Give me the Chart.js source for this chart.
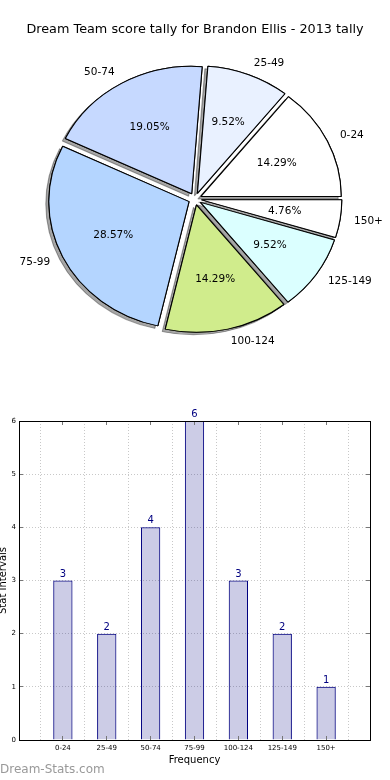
<!DOCTYPE html>
<html>
<head>
<meta charset="utf-8">
<script src="https://cdn.jsdelivr.net/npm/chart.js@4.4.0/dist/chart.umd.min.js"></script>
<style>
    html, body { margin: 0; padding: 0; background: #fff; overflow: hidden; }
    body { position: relative; width: 390px; height: 780px; }
    #pieChart { position: absolute; left: 0; top: 0; }
    #barChart { position: absolute; left: -6px; top: 380px; }
    #credit { position: absolute; left: 0; top: 762px; font: 12px 'DejaVu Sans'; line-height: 14px; color: #999; }
</style>
</head>
<body>
<canvas id="pieChart" width="390" height="380"></canvas>
<canvas id="barChart" width="396" height="400"></canvas>
<div id="credit">Dream-Stats.com</div>
<script>
const categories = ['0-24', '25-49', '50-74', '75-99', '100-124', '125-149', '150+'];
const counts = [3, 2, 4, 6, 3, 2, 1];
const sliceColors = ['#ffffff', '#e9f1ff', '#c6d9ff', '#b4d5ff', '#d0ec8c', '#dbffff', '#ffffff'];
const yTicks = [0, 1, 2, 3, 4, 5, 6];

const STRETCH = 1.1;   // pie is drawn as a slightly wide ellipse
const EXPLODE = 6;
const PIE_R = 127.5;

Chart.defaults.font.family = "'DejaVu Sans', sans-serif";
Chart.defaults.color = '#000';

const total = counts.reduce((a, b) => a + b, 0);

// matplotlib goes counter-clockwise from 3 o'clock, chart.js clockwise -> reverse
const pieLabels = categories.slice().reverse();
const pieValues = counts.slice().reverse();
const pieColors = sliceColors.slice().reverse();

const explodedPie = {
    id: 'explodedPie',
    beforeDatasetDraw(chart, args) {
        const ctx = chart.ctx;
        const arcs = args.meta.data;
        const cx = arcs[0].x;
        const paint = (withShadow) => {
            arcs.forEach(arc => {
                const mid = (arc.startAngle + arc.endAngle) / 2;
                ctx.save();
                ctx.translate(cx, 0);
                ctx.scale(STRETCH, 1);
                ctx.translate(-cx, 0);
                ctx.translate(Math.cos(mid) * EXPLODE, Math.sin(mid) * EXPLODE);
                if (withShadow) {
                    ctx.shadowColor = 'rgba(0,0,0,0.35)';
                    ctx.shadowOffsetX = -3;
                    ctx.shadowOffsetY = 2.5;
                }
                arc.draw(ctx);
                ctx.restore();
            });
        };
        paint(true);
        paint(false);
        return false;
    },
    afterDraw(chart) {
        const ctx = chart.ctx;
        const arcs = chart.getDatasetMeta(0).data;
        ctx.save();
        ctx.fillStyle = '#000';
        ctx.font = "10.5px 'DejaVu Sans'";
        ctx.textBaseline = 'middle';
        arcs.forEach((arc, i) => {
            const mid = (arc.startAngle + arc.endAngle) / 2;
            const c = Math.cos(mid), s = Math.sin(mid);
            const rl = EXPLODE + arc.outerRadius * 1.1;
            ctx.textAlign = c > 0 ? 'left' : 'right';
            ctx.fillText(pieLabels[i], arc.x + STRETCH * rl * c, arc.y + rl * s);
            const rp = EXPLODE + arc.outerRadius * 0.6;
            ctx.textAlign = 'center';
            const pct = (pieValues[i] / total * 100).toFixed(2) + '%';
            ctx.fillText(pct, arc.x + STRETCH * rp * c, arc.y + rp * s);
        });
        ctx.restore();
    }
};

new Chart(document.getElementById('pieChart'), {
    type: 'pie',
    data: {
        labels: pieLabels,
        datasets: [{
            data: pieValues,
            backgroundColor: pieColors,
            borderColor: '#000',
            borderWidth: 1
        }]
    },
    options: {
        responsive: false,
        animation: false,
        rotation: 90,
        radius: PIE_R,
        layout: { padding: { top: 0, bottom: 19.4 } },
        plugins: {
            legend: { display: false },
            tooltip: { enabled: false },
            title: {
                display: true,
                text: 'Dream Team score tally for Brandon Ellis - 2013 tally',
                font: { size: 12.8, weight: 'normal' },
                color: '#000',
                padding: { top: 22, bottom: 0 }
            }
        }
    },
    plugins: [explodedPie]
});

const align = v => Math.round(v - 0.5) + 0.5;

const barExtras = {
    id: 'barExtras',
    afterDraw(chart) {
        const ctx = chart.ctx;
        const a = chart.chartArea;
        const xs = chart.scales.x, ys = chart.scales.y;
        ctx.save();
        // small inward tick marks
        ctx.strokeStyle = '#777';
        ctx.lineWidth = 1;
        ctx.beginPath();
        for (let i = 1; i <= categories.length; i++) {
            const x = align(xs.getPixelForTick(i));
            ctx.moveTo(x, a.bottom); ctx.lineTo(x, a.bottom - 4);
            ctx.moveTo(x, a.top); ctx.lineTo(x, a.top + 4);
        }
        yTicks.forEach(t => {
            const y = align(ys.getPixelForValue(t));
            ctx.moveTo(a.left, y); ctx.lineTo(a.left + 4, y);
            ctx.moveTo(a.right, y); ctx.lineTo(a.right - 4, y);
        });
        ctx.stroke();
        // frame
        ctx.strokeStyle = '#000';
        ctx.strokeRect(align(a.left), align(a.top), Math.round(a.right - a.left), Math.round(a.bottom - a.top));
        // value labels
        ctx.fillStyle = '#000080';
        ctx.font = "10px 'DejaVu Sans'";
        ctx.textAlign = 'center';
        ctx.textBaseline = 'alphabetic';
        chart.getDatasetMeta(0).data.forEach((bar, i) => {
            const v = chart.data.datasets[0].data[i];
            if (v == null) return;
            ctx.fillText(String(v), bar.x, bar.y - 4);
        });
        ctx.restore();
    }
};

new Chart(document.getElementById('barChart'), {
    type: 'bar',
    data: {
        labels: [''].concat(categories, ['']),
        datasets: [{
            data: [null].concat(counts, [null]),
            backgroundColor: 'rgba(0,0,128,0.2)',
            borderColor: '#000080',
            borderWidth: 1,
            categoryPercentage: 0.44,
            barPercentage: 1
        }]
    },
    options: {
        responsive: false,
        animation: false,
        layout: { padding: { top: 41, right: 20, left: 0, bottom: 0 } },
        plugins: {
            legend: { display: false },
            tooltip: { enabled: false }
        },
        scales: {
            x: {
                offset: false,
                grid: { color: '#c8c8c8', drawTicks: false },
                border: { color: '#000', width: 1, dash: [1, 2] },
                ticks: { font: { size: 7 }, color: '#000', padding: 4, maxRotation: 0, autoSkip: false },
                title: { display: true, text: 'Frequency', font: { size: 10 }, color: '#000', padding: { top: 0, bottom: 14 } },
                afterFit: s => { s.height = 40; }
            },
            y: {
                min: yTicks[0],
                max: yTicks[yTicks.length - 1],
                grid: { color: '#c8c8c8', drawTicks: false },
                border: { color: '#000', width: 1, dash: [1, 2] },
                ticks: { stepSize: 1, font: { size: 7 }, color: '#000', padding: 3 },
                title: { display: true, text: 'Stat Intervals', font: { size: 10 }, color: '#000', padding: { top: 3, bottom: 0 } },
                afterFit: s => { s.width = 25; }
            }
        }
    },
    plugins: [barExtras]
});
</script>
</body>
</html>
